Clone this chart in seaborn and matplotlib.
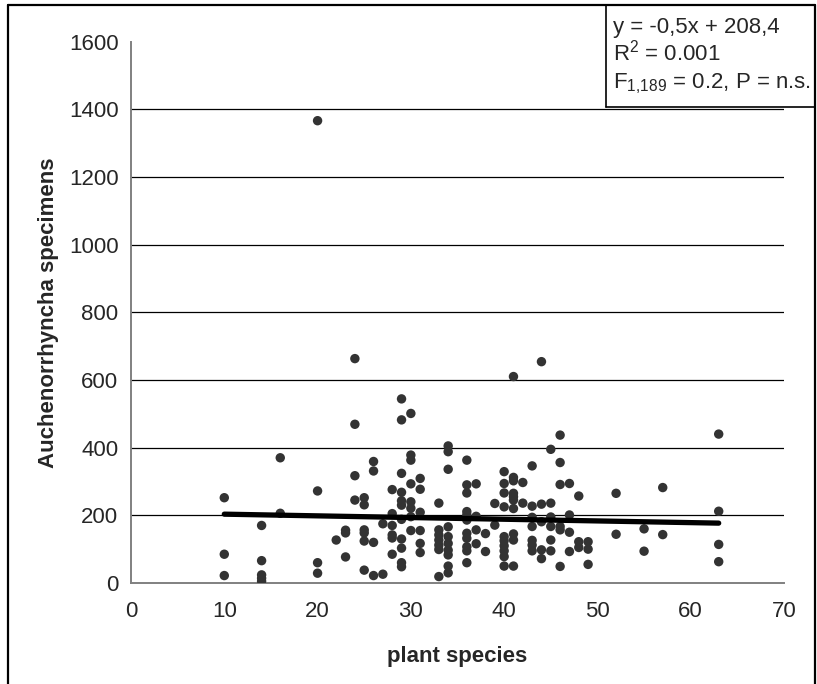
import numpy as np
import pandas as pd
import matplotlib
matplotlib.use("Agg")
import matplotlib.pyplot as plt
import seaborn as sns
from matplotlib.lines import Line2D

# Number of plant species per plot and Auchenorrhyncha specimens caught there
plant_species = (
    [10] * 3 + [14] * 5 + [16] * 2 + [20] * 4 + [22] + [23] * 3 + [24] * 4 + [25] * 6
    + [26] * 4 + [27] * 2 + [28] * 6 + [29] * 11 + [30] * 8 + [31] * 6 + [33] * 7
    + [34] * 10 + [36] * 11 + [37] * 4 + [38] * 2 + [39] * 2 + [40] * 10 + [41] * 10
    + [42] * 2 + [43] * 7 + [44] * 5 + [45] * 6 + [46] * 6 + [47] * 4 + [48] * 3
    + [49] * 3 + [52] * 2 + [55] * 2 + [57] * 2 + [63] * 4
)
specimens = [
    252, 85, 22,                                   # 10
    170, 66, 24, 14, 5,                            # 14
    370, 206,                                      # 16
    1366, 272, 60, 29,                             # 20
    127,                                           # 22
    156, 148, 77,                                  # 23
    663, 469, 317, 245,                            # 24
    252, 231, 157, 148, 124, 38,                   # 25
    359, 331, 120, 22,                             # 26
    175, 26,                                       # 27
    276, 205, 170, 142, 133, 85,                   # 28
    544, 482, 324, 268, 243, 230, 188, 130, 103, 60, 48,   # 29
    501, 378, 363, 293, 240, 221, 196, 155,        # 30
    309, 277, 209, 155, 117, 90,                   # 31
    236, 157, 142, 127, 112, 99, 19,               # 33
    405, 388, 336, 166, 137, 117, 97, 83, 50, 30,  # 34
    363, 290, 266, 211, 201, 186, 147, 132, 107, 95, 60,   # 36
    293, 197, 157, 116,                            # 37
    146, 93,                                       # 38
    235, 171,                                      # 39
    329, 294, 266, 225, 137, 125, 110, 95, 78, 50, # 40
    610, 312, 302, 265, 255, 245, 220, 145, 127, 50,       # 41
    297, 236,                                      # 42
    346, 227, 194, 167, 126, 112, 95,              # 43
    654, 233, 181, 98, 72,                         # 44
    395, 236, 195, 167, 127, 95,                   # 45
    437, 356, 291, 167, 157, 49,                   # 46
    294, 201, 150, 93,                             # 47
    257, 122, 105,                                 # 48
    122, 100, 55,                                  # 49
    265, 144,                                      # 52
    160, 94,                                       # 55
    282, 143,                                      # 57
    440, 212, 114, 63,                             # 63
]

# Fitted regression y = slope * x + intercept
slope = -0.5
intercept = 208.4
fit_x = [10, 63]

x_ticks = [0, 10, 20, 30, 40, 50, 60, 70]
y_ticks = [0, 200, 400, 600, 800, 1000, 1200, 1400, 1600]

df = pd.DataFrame({"plant species": plant_species, "specimens": specimens})
fit = pd.DataFrame({"x": fit_x, "y": [slope * v + intercept for v in fit_x]})

sns.set_style("white")
plt.rcParams["font.family"] = ["Liberation Sans", "DejaVu Sans"]
plt.rcParams["mathtext.fontset"] = "custom"
plt.rcParams["mathtext.rm"] = "Liberation Sans"
plt.rcParams["mathtext.it"] = "Liberation Sans:italic"
plt.rcParams["mathtext.bf"] = "Liberation Sans:bold"

fig = plt.figure(figsize=(8.17, 6.84), dpi=100)
ax = fig.add_axes([131 / 817, 1 - 583 / 684, (784 - 131) / 817, (583 - 41.5) / 684])

# horizontal gridlines (no line at the top value)
for yv in y_ticks[1:-1]:
    ax.axhline(yv, color="black", lw=0.9, zorder=0)

sns.scatterplot(data=df, x="plant species", y="specimens", ax=ax,
                color="#333333", s=46, edgecolor="none", zorder=3)
sns.lineplot(data=fit, x="x", y="y", ax=ax, color="black", lw=3.8, zorder=4)

ax.set_xlim(0, 70)
ax.set_ylim(0, 1600)
ax.set_xticks(x_ticks)
ax.set_yticks(y_ticks)
ax.tick_params(axis="both", labelsize=16, length=5, width=1, color="#808080",
               direction="out", pad=4)
ax.tick_params(axis="x", pad=8)
for side in ("top", "right"):
    ax.spines[side].set_visible(False)
for side in ("left", "bottom"):
    ax.spines[side].set_color("#808080")
    ax.spines[side].set_linewidth(1.4)

ax.set_xlabel("plant species", fontsize=16, fontweight="bold", labelpad=17)
ax.set_ylabel("Auchenorrhyncha specimens", fontsize=16, fontweight="bold", labelpad=7)

# outer frame of the figure
fig.add_artist(Line2D([8 / 817, 8 / 817], [0, 1 - 5 / 684], color="black", lw=1.6))
fig.add_artist(Line2D([8 / 817, 815 / 817], [1 - 5 / 684, 1 - 5 / 684], color="black", lw=1.6))
fig.add_artist(Line2D([815 / 817, 815 / 817], [0, 1 - 5 / 684], color="black", lw=1.6))

# statistics box
fig.add_artist(Line2D([606 / 817, 606 / 817], [1 - 107 / 684, 1 - 5 / 684], color="black", lw=1.2))
fig.add_artist(Line2D([606 / 817, 815 / 817], [1 - 107 / 684, 1 - 107 / 684], color="black", lw=1.2))

stats_lines = [
    "y = -0,5x + 208,4",
    r"R$^{\mathrm{2}}$ = 0.001",
    r"F$_{\mathrm{1{,}189}}$ = 0.2, P = n.s.",
]
for i, line in enumerate(stats_lines):
    fig.text(613 / 817, 1 - (33 + 27.5 * i) / 684, line, fontsize=16,
             ha="left", va="baseline")

fig.savefig("out.png", dpi=100)
